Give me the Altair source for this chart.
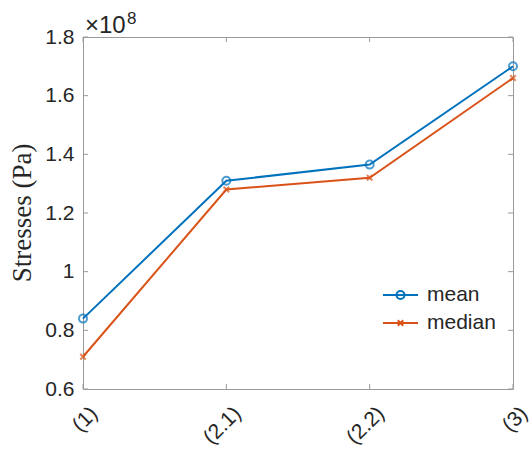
import altair as alt
import pandas as pd

# Stress summary per loading stage (Pa)
stages = ["(1)", "(2.1)", "(2.2)", "(3)"]
mean_pa = [0.84e8, 1.31e8, 1.365e8, 1.70e8]
median_pa = [0.71e8, 1.28e8, 1.32e8, 1.66e8]

y_ticks = [0.6e8, 0.8e8, 1.0e8, 1.2e8, 1.4e8, 1.6e8, 1.8e8]
series_names = ["mean", "median"]
series_colors = ["#0072BD", "#D95319"]
y_title = "Stresses (Pa)"

W, H = 430, 352
AXIS_GRAY = "#9a9a9a"
TEXT = "#262626"
X_SHAPE = "M-1,-1L1,1M-1,1L1,-1"
SANS = "Liberation Sans"
SERIF = "Liberation Serif"

df = pd.DataFrame({
    "stage": stages * 2,
    "stress": mean_pa + median_pa,
    "series": [series_names[0]] * len(stages) + [series_names[1]] * len(stages),
})
tick_df = pd.DataFrame({"stress": y_ticks})
stage_df = pd.DataFrame({"stage": stages})

x_scale = alt.Scale(type="point", padding=0, domain=stages)
y_scale = alt.Scale(domain=[0.6e8, 1.8e8], nice=False, zero=False)
color_scale = alt.Scale(domain=series_names, range=series_colors)

x_axis = alt.Axis(
    title=None, grid=False, ticks=False, domain=False,
    labelAngle=-45, labelAlign="right", labelBaseline="middle",
    labelPadding=21, labelOffset=11,
    labelFont=SANS, labelFontSize=21, labelColor=TEXT,
)
y_axis = alt.Axis(
    title=None, values=y_ticks, grid=False, ticks=False, domain=False,
    labelExpr="format(datum.value / 1e8, '~g')",
    labelFont=SANS, labelFontSize=21, labelColor=TEXT, labelPadding=9,
)

# Same channel definitions in every layer so the axes merge cleanly
x_enc = alt.X("stage:N", sort=stages, scale=x_scale, axis=x_axis)
y_enc = alt.Y("stress:Q", scale=y_scale, axis=y_axis)
c_enc = alt.Color("series:N", scale=color_scale, legend=None)

base = alt.Chart(df)

lines = base.mark_line(strokeWidth=2).encode(x=x_enc, y=y_enc, color=c_enc)

mean_pts = base.transform_filter(alt.datum.series == "mean").mark_point(
    shape="circle", filled=False, size=64, strokeWidth=2
).encode(x=x_enc, y=y_enc, color=c_enc)

median_pts = base.transform_filter(alt.datum.series == "median").mark_point(
    shape=X_SHAPE, filled=False, size=30, strokeWidth=2
).encode(x=x_enc, y=y_enc, color=c_enc)

# Inward-pointing ticks on all four sides of the box
tick_len = 5
left_ticks = alt.Chart(tick_df).mark_rule(color=AXIS_GRAY, strokeWidth=1).encode(
    y=y_enc, x=alt.value(0), x2=alt.value(tick_len),
)
right_ticks = alt.Chart(tick_df).mark_rule(color=AXIS_GRAY, strokeWidth=1).encode(
    y=y_enc, x=alt.value(W - tick_len), x2=alt.value(W),
)
bottom_ticks = alt.Chart(stage_df).mark_rule(color=AXIS_GRAY, strokeWidth=1).encode(
    x=x_enc, y=alt.value(H - tick_len), y2=alt.value(H),
)
top_ticks = alt.Chart(stage_df).mark_rule(color=AXIS_GRAY, strokeWidth=1).encode(
    x=x_enc, y=alt.value(0), y2=alt.value(tick_len),
)

one = pd.DataFrame({"k": [0]})

# Rotated serif y-axis title
title_layer = alt.Chart(one).mark_text(
    text=y_title, angle=270, align="center", baseline="middle",
    font=SERIF, fontSize=27, color=TEXT,
).encode(x=alt.value(-60), y=alt.value(H / 2))

# Exponent label above the y axis
exp_base = alt.Chart(one).mark_text(
    text="×10", align="left", baseline="alphabetic",
    font=SANS, fontSize=24, color=TEXT,
).encode(x=alt.value(2), y=alt.value(-4))
exp_power = alt.Chart(one).mark_text(
    text="8", align="left", baseline="alphabetic",
    font=SANS, fontSize=17, color=TEXT,
).encode(x=alt.value(44), y=alt.value(-13))

# Legend drawn inside the lower right of the axes
legend_layers = []
legend_shapes = ["circle", X_SHAPE]
legend_sizes = [64, 30]
for i, (name, col) in enumerate(zip(series_names, series_colors)):
    ly = 258 + 28 * i
    legend_layers.append(
        alt.Chart(one).mark_rule(color=col, strokeWidth=2).encode(
            x=alt.value(300), x2=alt.value(335), y=alt.value(ly)
        )
    )
    legend_layers.append(
        alt.Chart(one).mark_point(
            shape=legend_shapes[i], filled=False, size=legend_sizes[i],
            strokeWidth=2, color=col, opacity=1,
        ).encode(x=alt.value(317.5), y=alt.value(ly))
    )
    legend_layers.append(
        alt.Chart(one).mark_text(
            text=name, align="left", baseline="middle",
            font=SANS, fontSize=21, color=TEXT,
        ).encode(x=alt.value(344), y=alt.value(ly))
    )

chart = alt.layer(
    lines, mean_pts, median_pts,
    left_ticks, right_ticks, bottom_ticks, top_ticks,
    title_layer, exp_base, exp_power, *legend_layers,
).properties(
    width=W, height=H,
    padding={"left": 83, "top": 37, "right": 18, "bottom": 60},
    autosize=alt.AutoSizeParams(type="none"),
    background="white",
).configure_view(stroke=AXIS_GRAY, strokeWidth=1)

chart.save("out.html", embed_options={"renderer": "svg", "actions": False})
